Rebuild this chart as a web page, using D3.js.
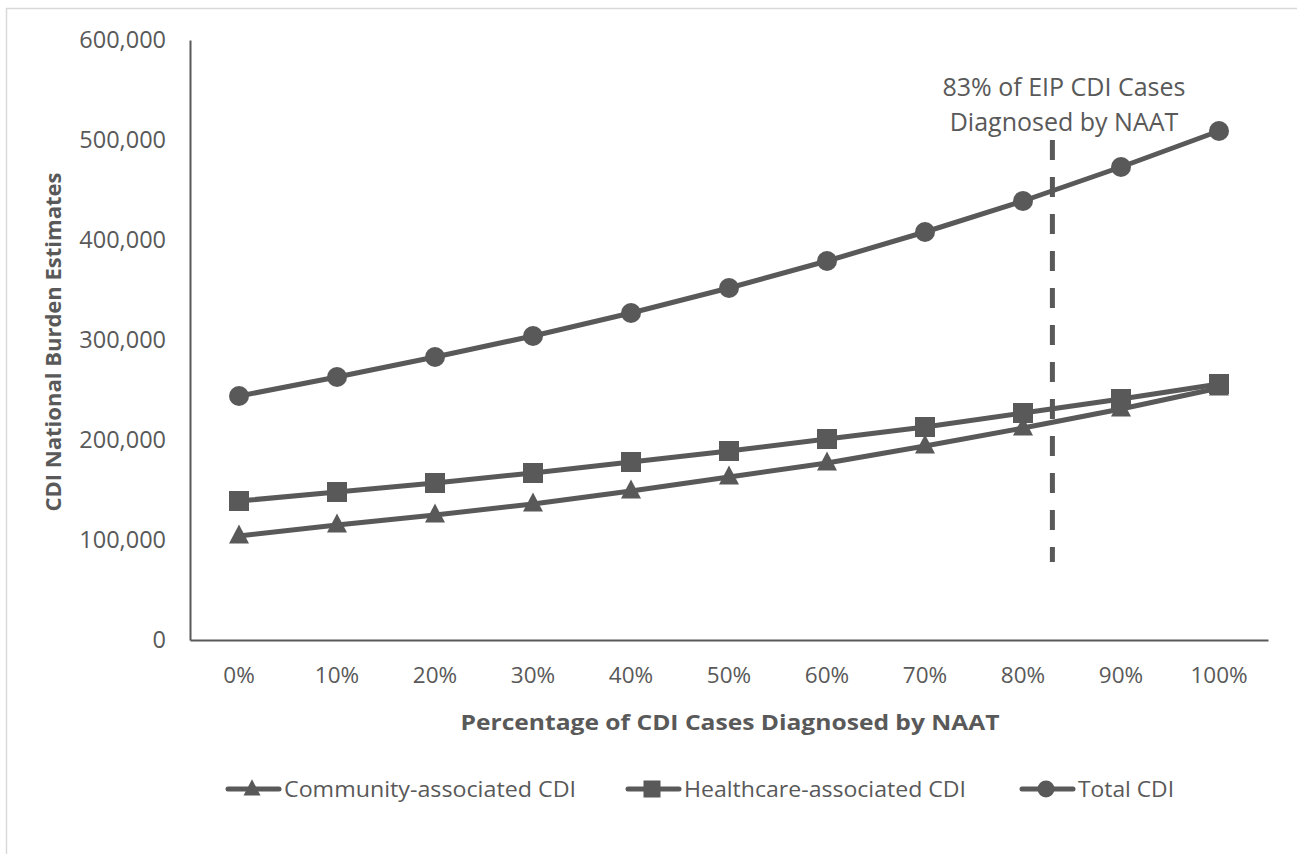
<!DOCTYPE html>
<html>
<head>
<meta charset="utf-8">
<script src="https://cdn.jsdelivr.net/npm/d3@7"></script>
<style>
  html, body { margin: 0; padding: 0; background: #fff; }
  svg { display: block; }
  svg text { font-family: "Open Sans", "Noto Sans", sans-serif; }
</style>
</head>
<body>
<svg id="chart" width="1297" height="854"></svg>
<script>
// Share of CDI cases diagnosed by NAAT
const categories = ["0%", "10%", "20%", "30%", "40%", "50%", "60%", "70%", "80%", "90%", "100%"];

// National burden estimates per series
const communityValues  = [104000, 115000, 125000, 136000, 149000, 163000, 177000, 194000, 212000, 231000, 252000];
const healthcareValues = [139000, 148000, 157000, 167000, 178000, 189000, 201000, 213000, 227000, 241000, 256000];
const totalValues      = [244000, 263000, 283000, 304000, 327000, 352000, 379000, 408000, 439000, 473000, 509000];

const yTickValues = [0, 100000, 200000, 300000, 400000, 500000, 600000];
const markerPercent = 83;   // EIP reference share
const annotationLines = ["83% of EIP CDI Cases", "Diagnosed by NAAT"];

const seriesNames = ["Community-associated CDI", "Healthcare-associated CDI", "Total CDI"];
const seriesShapes = ["triangle", "square", "circle"];

const ink = "#595959";
const font = "\"Open Sans\", \"Noto Sans\", sans-serif";
const svg = d3.select("#chart");

// Chart frame
svg.append("line").attr("x1", 6.5).attr("x2", 6.5).attr("y1", 8).attr("y2", 854)
  .attr("stroke", "#d9d9d9").attr("stroke-width", 1.5);
svg.append("line").attr("x1", 6).attr("x2", 1297).attr("y1", 8.5).attr("y2", 8.5)
  .attr("stroke", "#d9d9d9").attr("stroke-width", 1.5);

const plot = { left: 190, right: 1268, top: 40, bottom: 640 };

const x = d3.scaleBand().domain(categories).range([plot.left, plot.right]);
const y = d3.scaleLinear().domain([0, 600000]).range([plot.bottom, plot.top]);
const cx = c => x(c) + x.bandwidth() / 2;

// Numeric position for a percentage between category centres
const xPct = d3.scaleLinear().domain([0, 100]).range([cx("0%"), cx("100%")]);

// Y axis
const yAxis = d3.axisLeft(y).tickValues(yTickValues).tickSize(0).tickPadding(24)
  .tickFormat(d3.format(","));
const gy = svg.append("g").attr("transform", `translate(${plot.left},0)`).call(yAxis)
  .attr("font-family", font);
gy.select(".domain").attr("stroke", ink).attr("stroke-width", 2);
gy.selectAll("text").attr("fill", ink).attr("font-size", 23.5);

// X axis
const xAxis = d3.axisBottom(x).tickSize(0).tickPadding(27);
const gx = svg.append("g").attr("transform", `translate(0,${plot.bottom})`).call(xAxis)
  .attr("font-family", font);
gx.select(".domain").attr("stroke", ink).attr("stroke-width", 2);
gx.selectAll("text").attr("fill", ink).attr("font-size", 22.5);

// Axis titles
svg.append("text")
  .attr("transform", `translate(61,${(plot.top + plot.bottom) / 2 + 2}) rotate(-90)`)
  .attr("text-anchor", "middle").attr("fill", ink)
  .attr("font-size", 22).attr("font-weight", "bold")
  .attr("textLength", 339).attr("lengthAdjust", "spacingAndGlyphs")
  .text("CDI National Burden Estimates");
svg.append("text")
  .attr("x", 730).attr("y", 730)
  .attr("text-anchor", "middle").attr("fill", ink)
  .attr("font-size", 22).attr("font-weight", "bold")
  .attr("textLength", 539).attr("lengthAdjust", "spacingAndGlyphs")
  .text("Percentage of CDI Cases Diagnosed by NAAT");

// Reference line at the EIP NAAT share
svg.append("line")
  .attr("x1", xPct(markerPercent)).attr("x2", xPct(markerPercent))
  .attr("y1", y(500000) + 0).attr("y2", y(78000))
  .attr("stroke", ink).attr("stroke-width", 5)
  .attr("stroke-dasharray", "20,17");

svg.append("g").selectAll("text").data(annotationLines).join("text")
  .attr("x", 1064)
  .attr("y", (d, i) => 96 + i * 35)
  .attr("text-anchor", "middle").attr("fill", ink).attr("font-size", 25)
  .text(d => d);

// Marker drawing
function drawMarker(g, shape, px, py, s) {
  if (shape === "circle") {
    g.append("circle").attr("cx", px).attr("cy", py).attr("r", s * 0.5).attr("fill", ink);
  } else if (shape === "square") {
    g.append("rect").attr("x", px - s / 2).attr("y", py - s / 2)
      .attr("width", s).attr("height", s).attr("fill", ink);
  } else {
    const h = s * 0.95;
    g.append("path")
      .attr("d", `M${px},${py - h * 0.6}L${px + s / 2},${py + h * 0.4}L${px - s / 2},${py + h * 0.4}Z`)
      .attr("fill", ink);
  }
}

const seriesData = [communityValues, healthcareValues, totalValues];
const line = d3.line().x((d, i) => cx(categories[i])).y(d => y(d));

seriesData.forEach((vals, k) => {
  const g = svg.append("g");
  g.append("path").datum(vals).attr("d", line)
    .attr("fill", "none").attr("stroke", ink).attr("stroke-width", 5)
    .attr("stroke-linejoin", "round").attr("stroke-linecap", "round");
  vals.forEach((v, i) => drawMarker(g, seriesShapes[k], cx(categories[i]), y(v), 20));
});

// Legend
const legendX = [226, 626, 1020];
const legendTextLen = [292, 282, 96];
const legendY = 789;
seriesNames.forEach((name, k) => {
  const g = svg.append("g");
  const x0 = legendX[k];
  g.append("line").attr("x1", x0 + 2).attr("x2", x0 + 53)
    .attr("y1", legendY).attr("y2", legendY)
    .attr("stroke", ink).attr("stroke-width", 5).attr("stroke-linecap", "round");
  drawMarker(g, seriesShapes[k], x0 + 26, legendY, 17);
  g.append("text").attr("x", x0 + 58).attr("y", legendY + 8)
    .attr("fill", ink).attr("font-size", 22)
    .attr("textLength", legendTextLen[k]).attr("lengthAdjust", "spacingAndGlyphs")
    .text(name);
});
</script>
</body>
</html>
